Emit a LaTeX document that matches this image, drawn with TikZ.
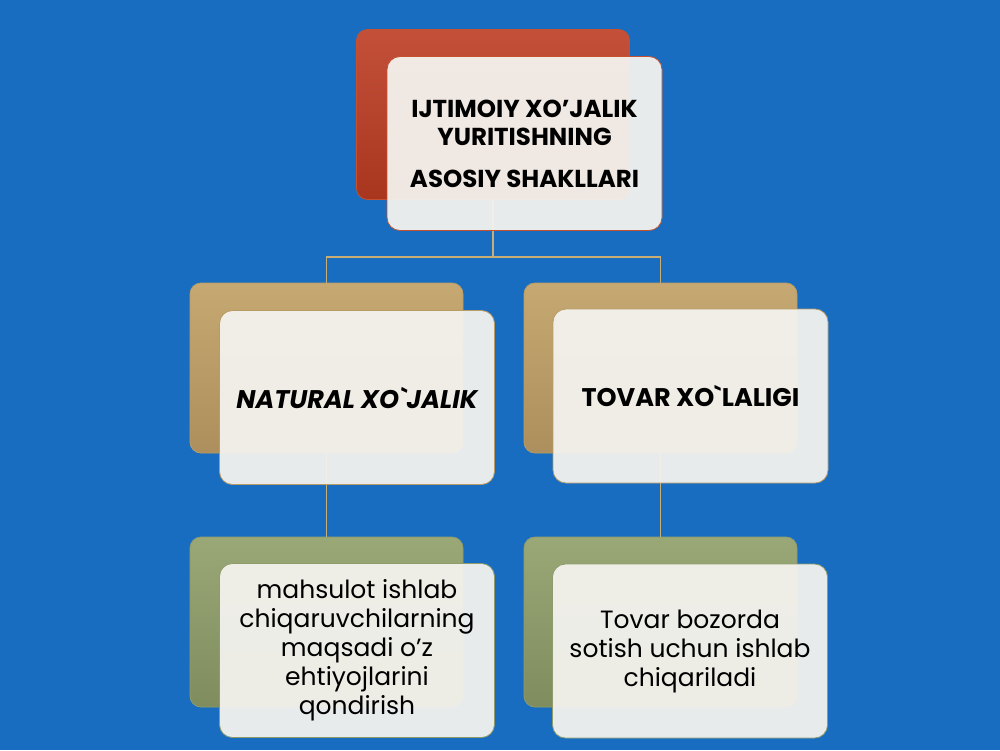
\documentclass[tikz,border=0pt]{standalone}
\usepackage{fontspec}
\setmainfont{Poppins}
\definecolor{bgblue}{HTML}{196DC1}
\definecolor{redtop}{HTML}{C4503A}
\definecolor{redbot}{HTML}{A8361F}
\definecolor{redline}{HTML}{C4502F}
\definecolor{goldtop}{HTML}{C6A872}
\definecolor{goldbot}{HTML}{AC8F5C}
\definecolor{goldline}{HTML}{B89C66}
\definecolor{greentop}{HTML}{9AA878}
\definecolor{greenbot}{HTML}{7F8D5E}
\definecolor{greenline}{HTML}{8E9C6C}
\definecolor{frontfill}{HTML}{F4F3EF}
\definecolor{conn}{HTML}{C8AE74}
\begin{document}
\begin{tikzpicture}[x=1pt,y=-1pt,
  backbox/.style={rounded corners=11pt, minimum width=273pt, minimum height=170pt, inner sep=0pt, draw=#1line, line width=0.8pt, top color=#1top, bottom color=#1bot},
  frontbox/.style={rounded corners=13pt, minimum width=275pt, minimum height=174pt, inner sep=2pt, draw=#1line, line width=0.8pt, fill=frontfill, fill opacity=0.94, text opacity=1, align=center, text=black},
  connline/.style={draw=conn, line width=1.3pt},
  toptext/.style={font=\fontsize{24.5}{28}\selectfont\bfseries},
  midtext/.style={font=\fontsize{25.5}{28}\selectfont\bfseries},
  lowtext/.style={font=\fontsize{25}{29}\selectfont}
]
\useasboundingbox (0,0) rectangle (1000,750);
\fill[bgblue] (0,0) rectangle (1000,750);

% back boxes
\node[backbox=red] (topback) at (493,114.5) {};
\node[backbox=gold] (lback) at (326.5,368) {};
\node[backbox=gold] (rback) at (660.5,368) {};
\node[backbox=green] (llback) at (326.5,622) {};
\node[backbox=green] (lrback) at (660.5,622) {};

% connectors
\coordinate (junc) at (493,257);
\draw[connline] (topback.south) -- (junc);
\draw[connline] (junc) -| (lback.north);
\draw[connline] (junc) -| (rback.north);
\draw[connline] (lback.south) -- (llback.north);
\draw[connline] (rback.south) -- (lrback.north);

% front boxes
\node[frontbox=red, toptext] (topfront) at (524.5,143.5) {IJTIMOIY XO’JALIK\\YURITISHNING\\[14pt] ASOSIY SHAKLLARI};
\node[frontbox=gold, midtext] (lfront) at (357,397.5) {\itshape NATURAL XO\textasciigrave JALIK};
\node[frontbox=gold, midtext] (rfront) at (690.5,396) {TOVAR XO\textasciigrave LALIGI};
\node[frontbox=green, lowtext] (llfront) at (357,650.5) {mahsulot ishlab\\chiqaruvchilarning\\maqsadi o’z\\ehtiyojlarini\\qondirish};
\node[frontbox=green, lowtext] (lrfront) at (690,651) {Tovar bozorda\\sotish uchun ishlab\\chiqariladi};
\end{tikzpicture}
\end{document}
